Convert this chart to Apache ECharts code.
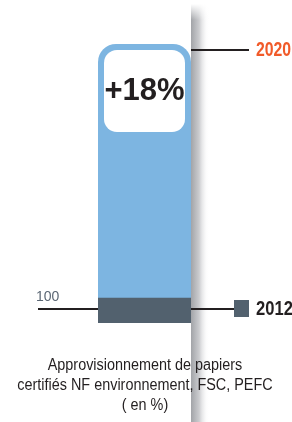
<!DOCTYPE html>
<html>
<head>
<meta charset="utf-8">
<script src="https://cdn.jsdelivr.net/npm/echarts@6/dist/echarts.min.js"></script>
<style>
  html, body { margin: 0; padding: 0; background: #fff; }
  #chart { width: 292px; height: 422px; }
</style>
</head>
<body>
<div id="chart"></div>
<script>
var years = ['2012', '2020'];          // 2012 = base, 2020 = objectif
var values = [100, 118];
var evolution = '+18%';
var baseLabel = '100';
var titleLines = ['Approvisionnement de papiers', 'certifiés NF environnement, FSC, PEFC', '( en %)'];
var axisMin = 98.2;                    // axe coupé : on ne montre que le haut

var sans = 'Liberation Sans';          // pas de police étroite installée -> scaleX
var MyChart = echarts.init(document.getElementById('chart'));

var option = {
  animation: false,
  grid: { left: 98, right: 101, top: 44, bottom: 99 },
  xAxis: { type: 'category', data: ['papiers'], show: false },
  yAxis: { type: 'value', min: axisMin, max: values[1], show: false },
  series: [
    {
      name: years[1],
      type: 'bar',
      data: [values[1]],
      barWidth: '100%',
      z: 3,
      itemStyle: { color: '#7DB5E1', borderRadius: [18, 18, 0, 0] },
      label: { // la pastille blanche avec le pourcentage
        show: true,
        position: 'insideTop',
        distance: 6,
        formatter: evolution,
        backgroundColor: '#fff',
        borderRadius: 13,
        width: 81,
        height: 82,
        lineHeight: 82,
        align: 'center',
        fontSize: 31,
        fontWeight: 'bold',
        fontFamily: sans,
        color: '#231F20'
      }
    },
    {
      name: years[0],
      type: 'bar',
      data: [values[0]],
      barWidth: '100%',
      barGap: '-100%',
      z: 4,
      itemStyle: { color: '#52616E' }
    }
  ]
};
MyChart.setOption(option);

// positions des repères calculées depuis les axes
var rect = MyChart.getModel().getComponent('grid').coordinateSystem.getRect();
var barRight = rect.x + rect.width;
var y2020 = MyChart.convertToPixel({ gridIndex: 0 }, [0, values[1]])[1] + 6;
var y2012top = MyChart.convertToPixel({ gridIndex: 0 }, [0, values[0]])[1];
var yMin = MyChart.convertToPixel({ gridIndex: 0 }, [0, axisMin])[1];
var y2012 = Math.round((y2012top + yMin) / 2) - 1;

var graphics = [
  { // ombre grise à droite de la barre
    type: 'rect', z: 1,
    shape: { x: barRight, y: 4, width: 18, height: 418 },
    style: { fill: new echarts.graphic.LinearGradient(0, 0, 1, 0, [
      { offset: 0, color: '#A2A4A8' }, { offset: 0.45, color: '#CBCCCF' }, { offset: 1, color: 'rgba(255,255,255,0)' }
    ]) }
  },
  {
    type: 'rect', z: 2,
    shape: { x: barRight, y: 4, width: 18, height: 16 },
    style: { fill: new echarts.graphic.LinearGradient(0, 0, 0, 1, [
      { offset: 0, color: '#fff' }, { offset: 1, color: 'rgba(255,255,255,0)' }
    ]) }
  },
  {
    type: 'line', z: 2,
    shape: { x1: barRight, y1: y2020, x2: 249, y2: y2020 },
    style: { stroke: '#231F20', lineWidth: 2 }
  },
  {
    type: 'text', z: 5, x: 256, y: y2020, scaleX: 0.79,
    style: { text: years[1], fill: '#F15A29', fontFamily: sans, fontWeight: 'bold', fontSize: 20, verticalAlign: 'middle' }
  },
  {
    type: 'line', z: 2,
    shape: { x1: 38, y1: y2012, x2: 236, y2: y2012 },
    style: { stroke: '#231F20', lineWidth: 2 }
  },
  {
    type: 'rect', z: 5,
    shape: { x: 234, y: y2012 - 9, width: 15, height: 17 },
    style: { fill: '#52616E' }
  },
  {
    type: 'text', z: 5, x: 256, y: y2012, scaleX: 0.79,
    style: { text: years[0], fill: '#231F20', fontFamily: sans, fontWeight: 'bold', fontSize: 21, verticalAlign: 'middle' }
  },
  {
    type: 'text', z: 5, x: 36, y: 297,
    style: { text: baseLabel, fill: '#5B6774', fontFamily: sans, fontSize: 14, verticalAlign: 'middle' }
  }
];
for (var i = 0; i < titleLines.length; i++) {
  graphics.push({
    type: 'text', z: 5, x: 145, y: 366 + i * 20, scaleX: 0.9,
    style: { text: titleLines[i], fill: '#231F20', fontFamily: sans, fontSize: 16, align: 'center', verticalAlign: 'middle' }
  });
}
MyChart.setOption({ graphic: graphics });
</script>
</body>
</html>
